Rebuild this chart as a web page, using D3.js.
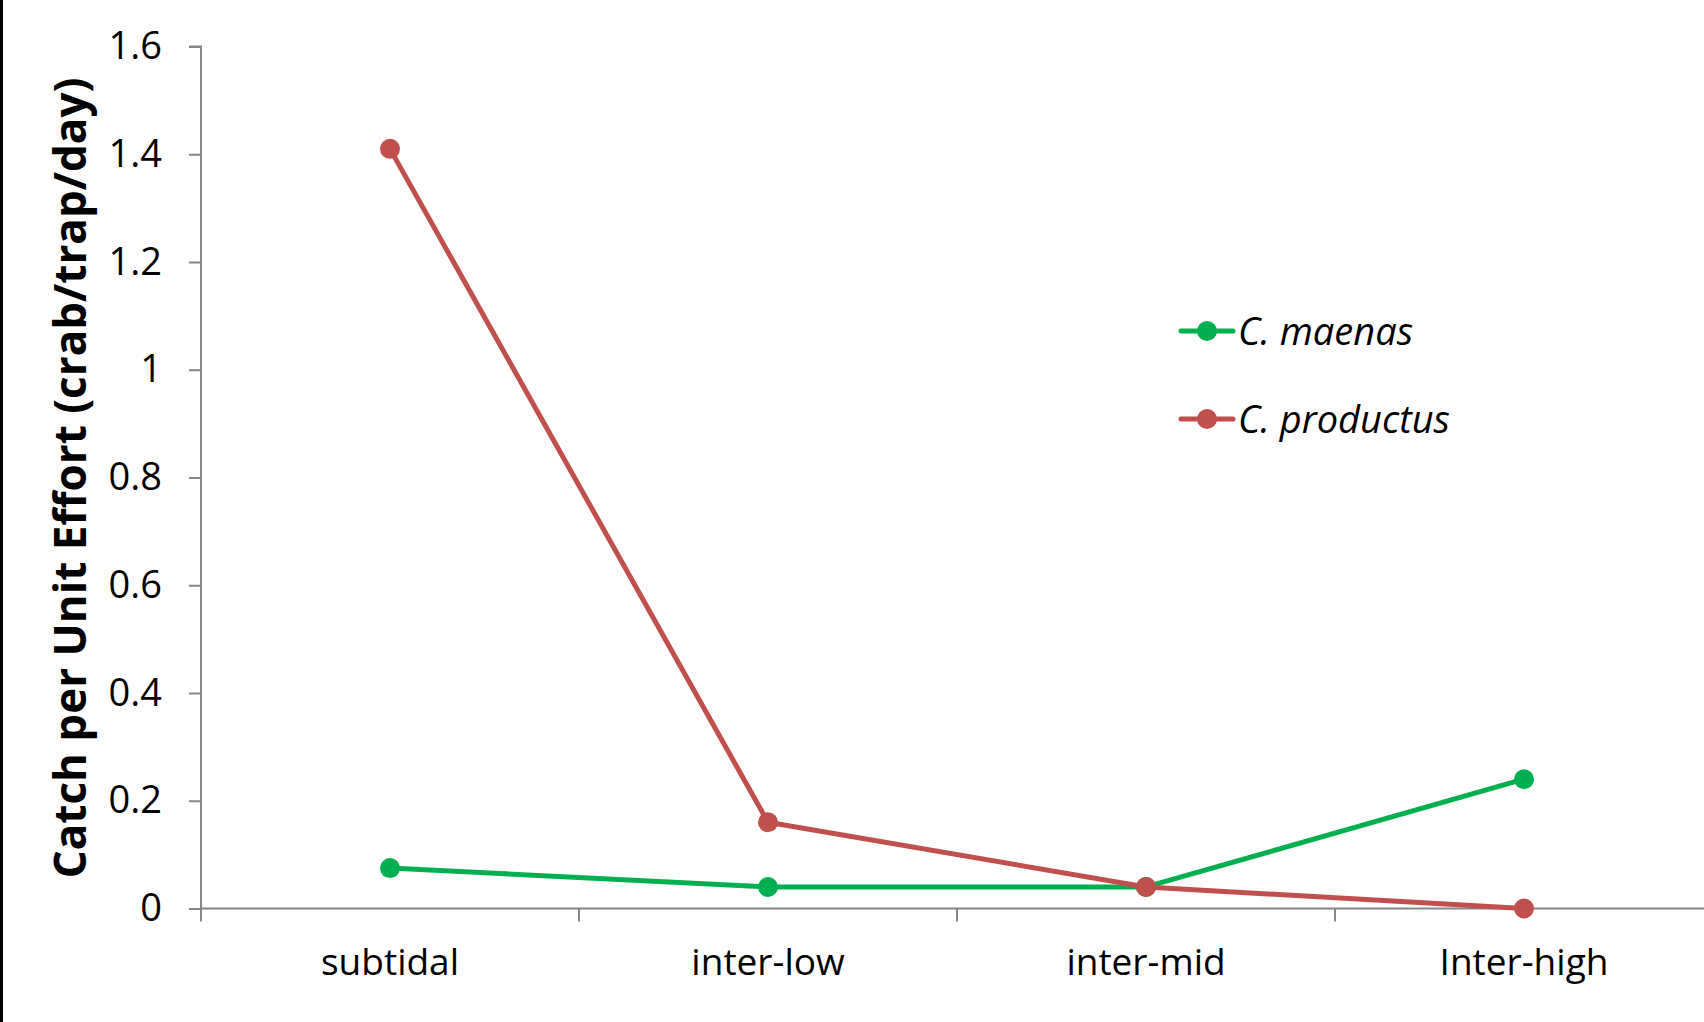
<!DOCTYPE html>
<html><head><meta charset="utf-8">
<script src="https://cdn.jsdelivr.net/npm/d3@7"></script>
<style>html,body{margin:0;padding:0;background:#fff;overflow:hidden}</style>
</head><body>
<svg id="chart" width="1704" height="1022"></svg>
<script>
const categories = ["subtidal", "inter-low", "inter-mid", "Inter-high"];
const maenas = [0.075, 0.04, 0.04, 0.24];
const productus = [1.41, 0.16, 0.04, 0.0];
const yTicks = [0, 0.2, 0.4, 0.6, 0.8, 1, 1.2, 1.4, 1.6];
const seriesNames = ["C. maenas", "C. productus"];
const seriesColors = ["#00B050", "#C0504D"];

(function(){
const svg = d3.select("#chart");
const font = "'Open Sans', sans-serif";
const pLeft = 201, pRight = 1713, pTop = 46.5, pBottom = 908.5;

svg.append("rect").attr("x",0).attr("y",0).attr("width",1704).attr("height",1022).attr("fill","#fff");
svg.append("line").attr("x1",1.5).attr("x2",1.5).attr("y1",0).attr("y2",1022).attr("stroke","#000").attr("stroke-width",3);

const x = d3.scaleBand().domain(categories).range([pLeft, pRight]);
const y = d3.scaleLinear().domain([0, 1.6]).range([pBottom, pTop]);

// Y axis
const yAxis = svg.append("g").attr("transform", `translate(${pLeft},0)`)
  .call(d3.axisLeft(y).tickValues(yTicks).tickSize(12).tickPadding(27).tickFormat(d => String(+d.toFixed(1))));
yAxis.select(".domain").attr("stroke","#868686").attr("stroke-width",2).attr("d", `M-12,${pTop}H0V${pBottom+13}`);
yAxis.selectAll(".tick line").attr("stroke","#868686").attr("stroke-width",2);
yAxis.selectAll(".tick text").attr("font-family",font).attr("font-size",38).attr("fill","#000");

// X axis
const xAxis = svg.append("g").attr("transform", `translate(0,${pBottom})`)
  .call(d3.axisBottom(x).tickSize(0).tickPadding(40));
xAxis.select(".domain").attr("stroke","#868686").attr("stroke-width",2).attr("d", `M${pLeft},0H1704`);
xAxis.selectAll(".tick text").attr("font-family",font).attr("font-size",37).attr("fill","#000");
svg.append("g").selectAll("line").data(categories.slice(1)).join("line")
  .attr("x1", d => x(d)).attr("x2", d => x(d)).attr("y1", pBottom).attr("y2", pBottom+13)
  .attr("stroke","#868686").attr("stroke-width",2);

// Y title
svg.append("text").attr("transform", `translate(86,478) rotate(-90)`)
  .attr("text-anchor","middle").attr("font-family",font).attr("font-weight","bold").attr("font-size",44)
  .text("Catch per Unit Effort (crab/trap/day)");

const line = d3.line().x((d,i) => x(categories[i]) + x.bandwidth()/2).y(d => y(d));
[maenas, productus].forEach((vals, k) => {
  svg.append("path").datum(vals).attr("d", line).attr("fill","none")
    .attr("stroke", seriesColors[k]).attr("stroke-width",5).attr("stroke-linejoin","round");
  svg.append("g").selectAll("circle").data(vals).join("circle")
    .attr("cx", (d,i) => x(categories[i]) + x.bandwidth()/2).attr("cy", d => y(d)).attr("r", 10)
    .attr("fill", seriesColors[k]);
});

// Legend
const legend = svg.append("g");
seriesNames.forEach((name, k) => {
  const ly = 331 + k*88;
  legend.append("line").attr("x1",1181).attr("x2",1233).attr("y1",ly).attr("y2",ly)
    .attr("stroke",seriesColors[k]).attr("stroke-width",5).attr("stroke-linecap","round");
  legend.append("circle").attr("cx",1207).attr("cy",ly).attr("r",10).attr("fill",seriesColors[k]);
  legend.append("text").attr("x",1238).attr("y",ly).attr("dy","0.36em")
    .attr("font-family",font).attr("font-style","italic").attr("font-size",38).text(name);
});
})();
</script>
</body></html>
